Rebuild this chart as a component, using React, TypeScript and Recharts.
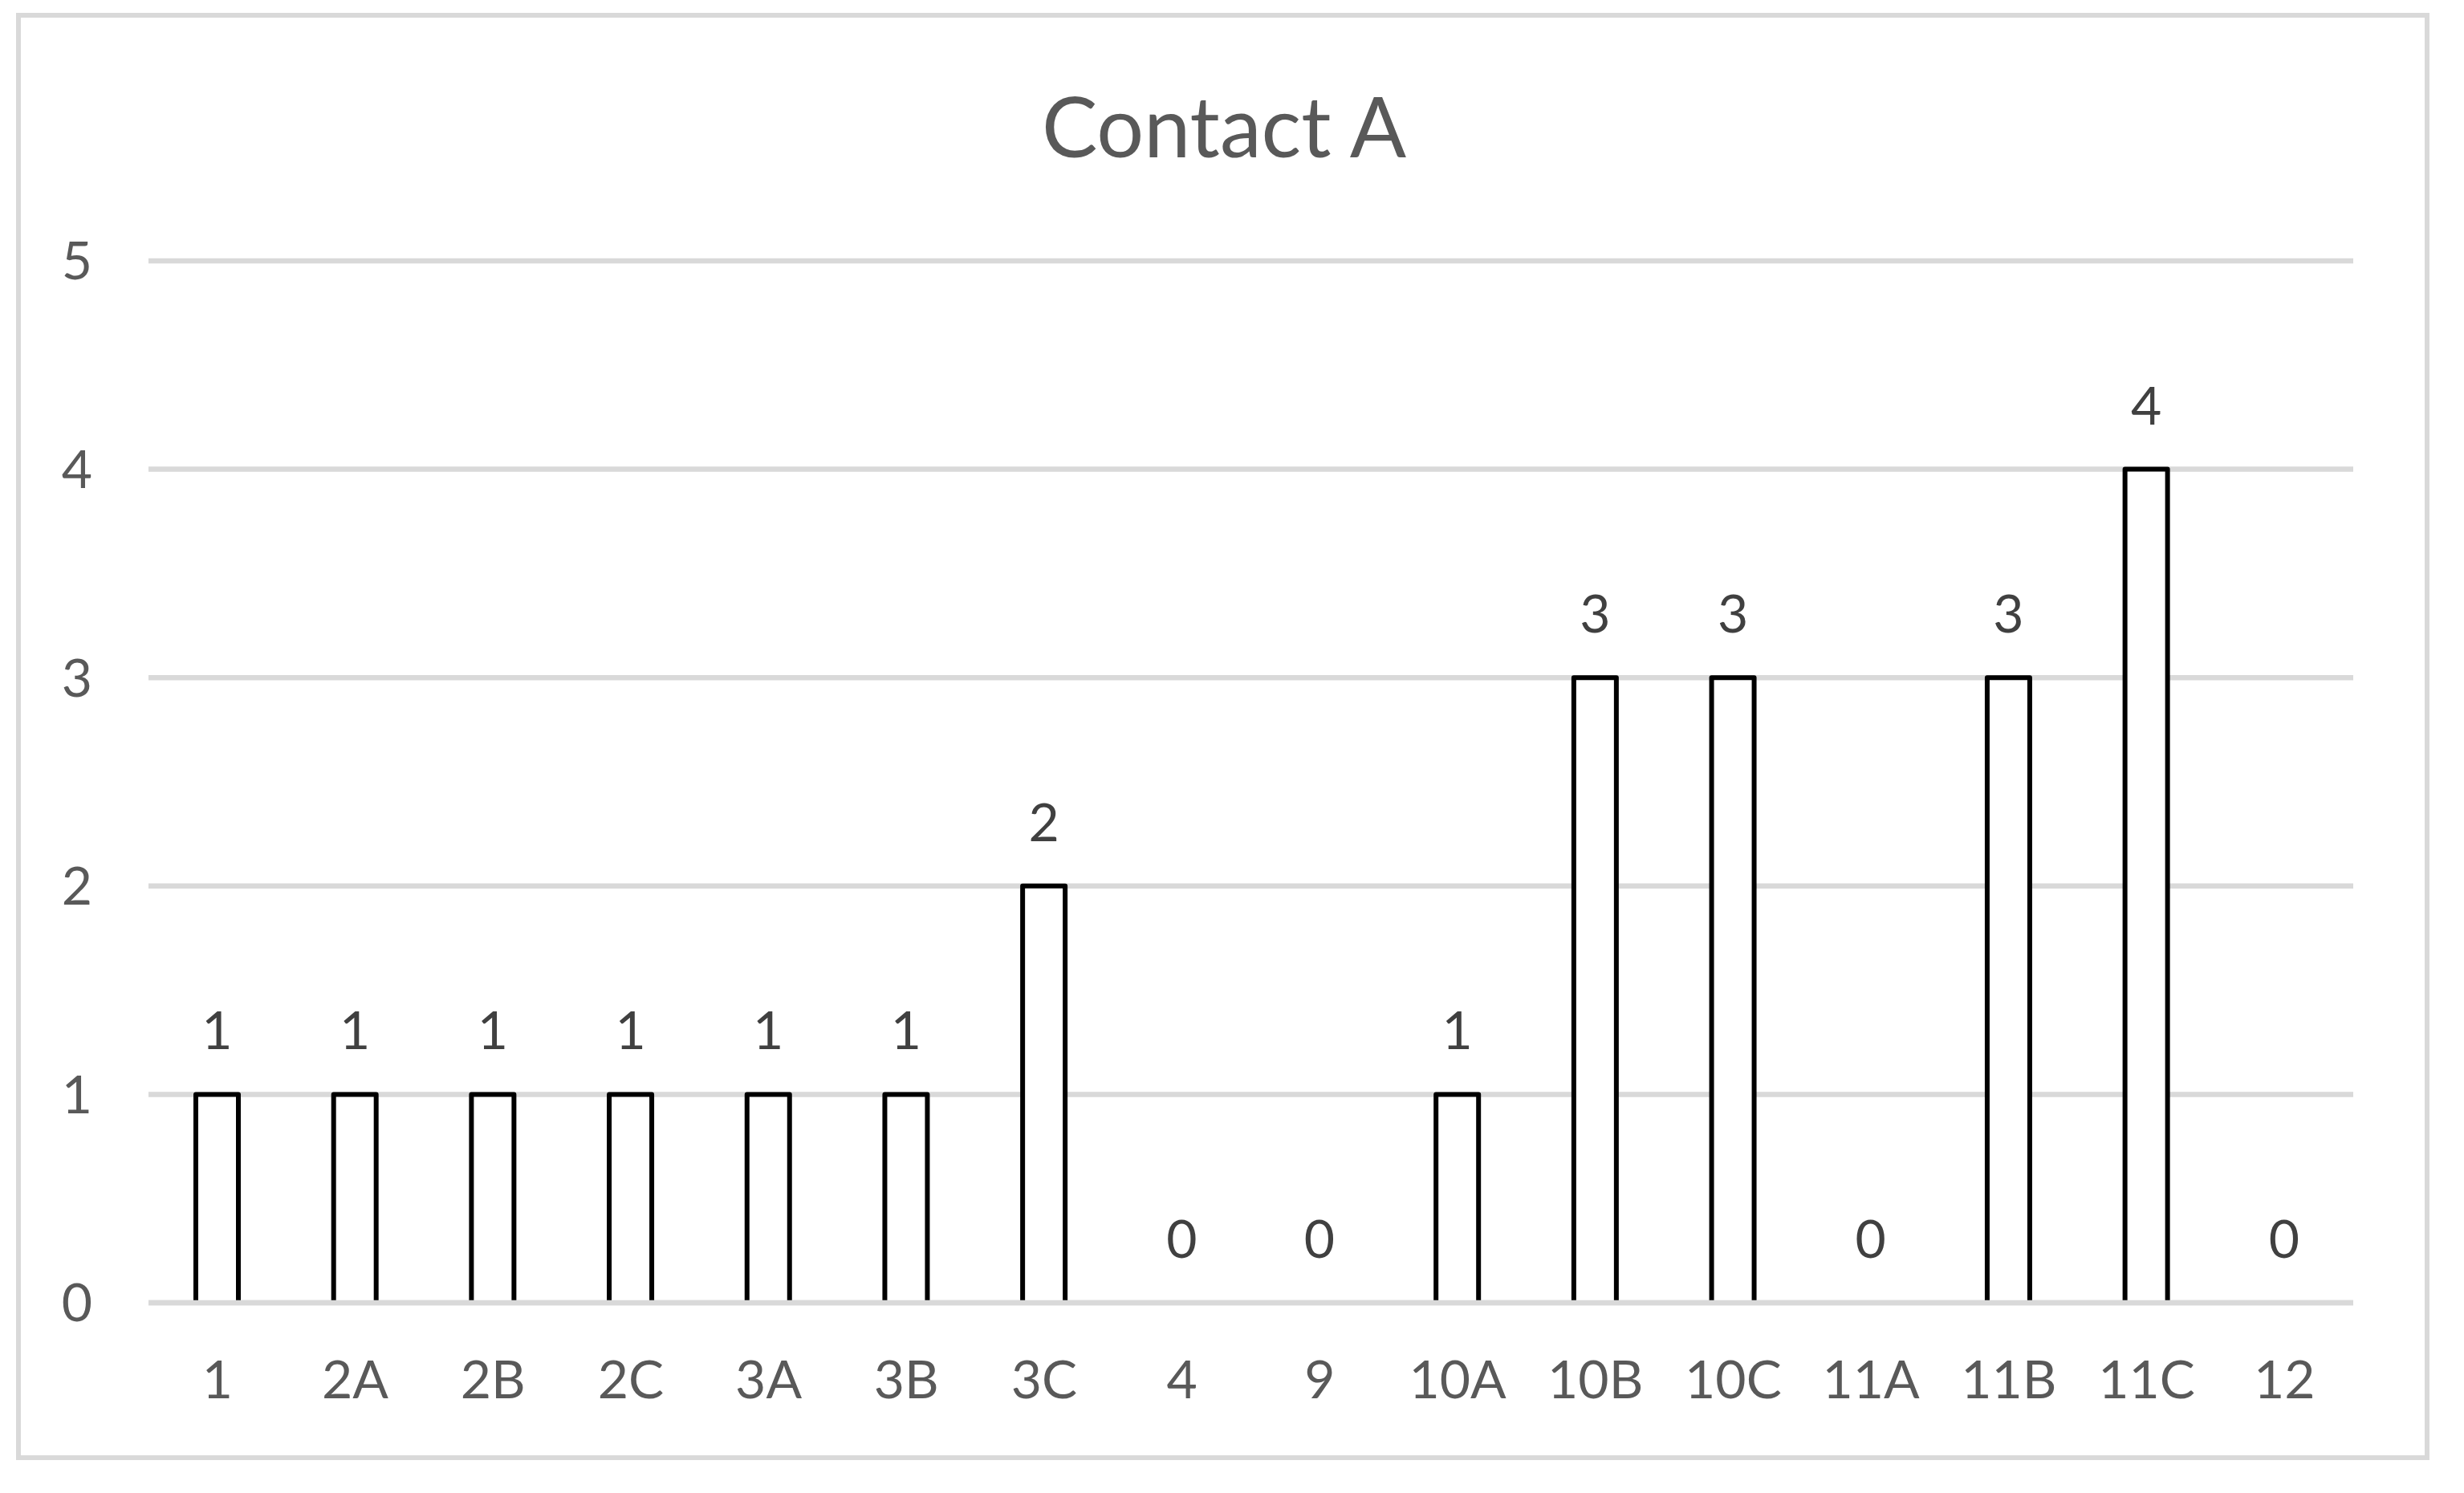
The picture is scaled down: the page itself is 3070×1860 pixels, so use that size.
import React from 'react';
import { BarChart, Bar, XAxis, YAxis, CartesianGrid, LabelList } from 'recharts';

const categories = ['1', '2A', '2B', '2C', '3A', '3B', '3C', '4', '9', '10A', '10B', '10C', '11A', '11B', '11C', '12'];
const values = [1, 1, 1, 1, 1, 1, 2, 0, 0, 1, 3, 3, 0, 3, 4, 0];
const yTicks = [0, 1, 2, 3, 4, 5];
const title = 'Contact A';

const data = categories.map((c, i) => ({ name: c, value: values[i] }));

const FONT = 'Lato, "Open Sans", sans-serif';

const OpenBar = (props: any) => {
  const { x, y, width, height } = props;
  if (!height || height <= 0) return null;
  const d = `M${x},${y + height} L${x},${y} L${x + width},${y} L${x + width},${y + height}`;
  return (
    <path d={d} fill="#ffffff" stroke="#000000" strokeWidth={6} strokeLinejoin="round" />
  );
};

export default function App() {
  return (
    <div style={{ position: 'fixed', left: 0, top: 0, width: 3070, height: 1860, background: '#ffffff' }}>
      <div
        style={{
          position: 'absolute',
          left: 20,
          top: 16,
          width: 3007,
          height: 1803,
          border: '6px solid #d9d9d9',
          boxSizing: 'border-box',
        }}
      />
      <svg style={{ position: 'absolute', left: 0, top: 0 }} width={3070} height={300}>
        <text x={1525} y={196} textAnchor="middle" fontFamily={FONT} fontSize={104} fill="#595959">
          {title}
        </text>
      </svg>
      <div style={{ position: 'absolute', left: 0, top: 0 }}>
        <BarChart
          width={3070}
          height={1860}
          data={data}
          margin={{ top: 325, right: 138, bottom: 137, left: 65 }}
          barCategoryGap={0}
        >
          <CartesianGrid vertical={false} stroke="#d9d9d9" strokeWidth={6.5} />
          <XAxis
            dataKey="name"
            height={100}
            axisLine={{ stroke: '#d9d9d9', strokeWidth: 6.5 }}
            tickLine={false}
            tickSize={0}
            tickMargin={72}
            interval={0}
            tick={{ fill: '#595959', fontSize: 66, fontFamily: FONT }}
          />
          <YAxis
            width={120}
            domain={[0, 5]}
            ticks={yTicks}
            axisLine={false}
            tickLine={false}
            tickSize={0}
            tickMargin={70}
            tick={{ fill: '#595959', fontSize: 66, fontFamily: FONT }}
          />
          <Bar dataKey="value" barSize={53} shape={<OpenBar />} isAnimationActive={false}>
            <LabelList
              dataKey="value"
              position="top"
              offset={56}
              fill="#404040"
              fontSize={66}
              fontFamily={FONT}
            />
          </Bar>
        </BarChart>
      </div>
    </div>
  );
}
